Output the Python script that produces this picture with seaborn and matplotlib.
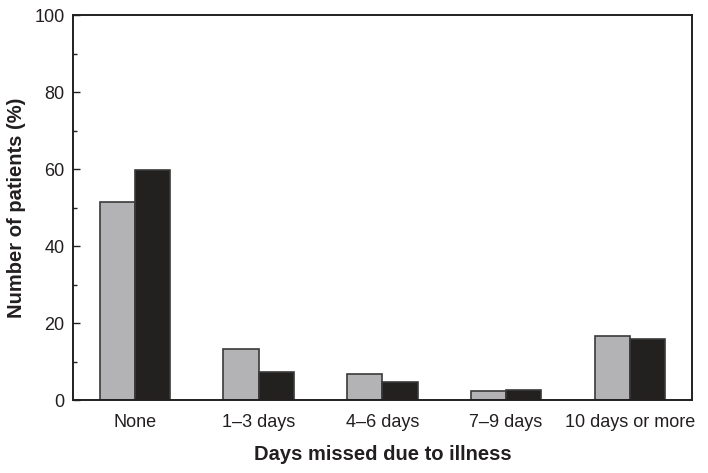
import pandas as pd
import matplotlib
matplotlib.use("Agg")
import matplotlib.pyplot as plt
from matplotlib.ticker import MultipleLocator
import seaborn as sns

# Datos
categorias = ['None', '1\u20133 days', '4\u20136 days', '7\u20139 days', '10 days or more']
grupo_a = [51.5, 13.3, 6.8, 2.3, 16.7]
grupo_b = [59.7, 7.4, 4.6, 2.6, 16.0]
grupos = ['A', 'B']

sns.set_style("white")
plt.rcParams['font.family'] = ['Liberation Sans', 'DejaVu Sans']
plt.rcParams['text.color'] = '#231f20'
plt.rcParams['axes.labelcolor'] = '#231f20'
plt.rcParams['xtick.color'] = '#231f20'
plt.rcParams['ytick.color'] = '#231f20'

df = pd.DataFrame({
    'categoria': categorias * 2,
    'valor': grupo_a + grupo_b,
    'grupo': [grupos[0]] * len(categorias) + [grupos[1]] * len(categorias),
})

fig = plt.figure(figsize=(7.08, 4.73), dpi=100)
ax = fig.add_axes([0.103, 0.154, 0.874, 0.814])

sns.barplot(data=df, x='categoria', y='valor', hue='grupo',
            palette=['#b2b3b6', '#231f20'], width=0.57,
            edgecolor='#3a3a3a', linewidth=1.2, legend=False, ax=ax)

ax.set_xlim(-0.5, 4.5)
ax.set_ylim(0, 100)
ax.yaxis.set_major_locator(MultipleLocator(20))
ax.yaxis.set_minor_locator(MultipleLocator(10))
ax.tick_params(axis='y', which='both', left=True)
ax.tick_params(axis='y', which='major', direction='in', length=5, width=1,
               labelsize=13, pad=6)
ax.tick_params(axis='y', which='minor', direction='in', length=3, width=1)
ax.tick_params(axis='x', length=0, labelsize=13, pad=10)

for s in ax.spines.values():
    s.set_visible(True)
    s.set_color('#231f20')
    s.set_linewidth(1.4)

ax.set_xlabel('Days missed due to illness', fontsize=14.5, fontweight='bold',
              labelpad=10)
ax.set_ylabel('Number of patients (%)', fontsize=14.5, fontweight='bold',
              labelpad=6)

fig.savefig('out.png', dpi=100)
